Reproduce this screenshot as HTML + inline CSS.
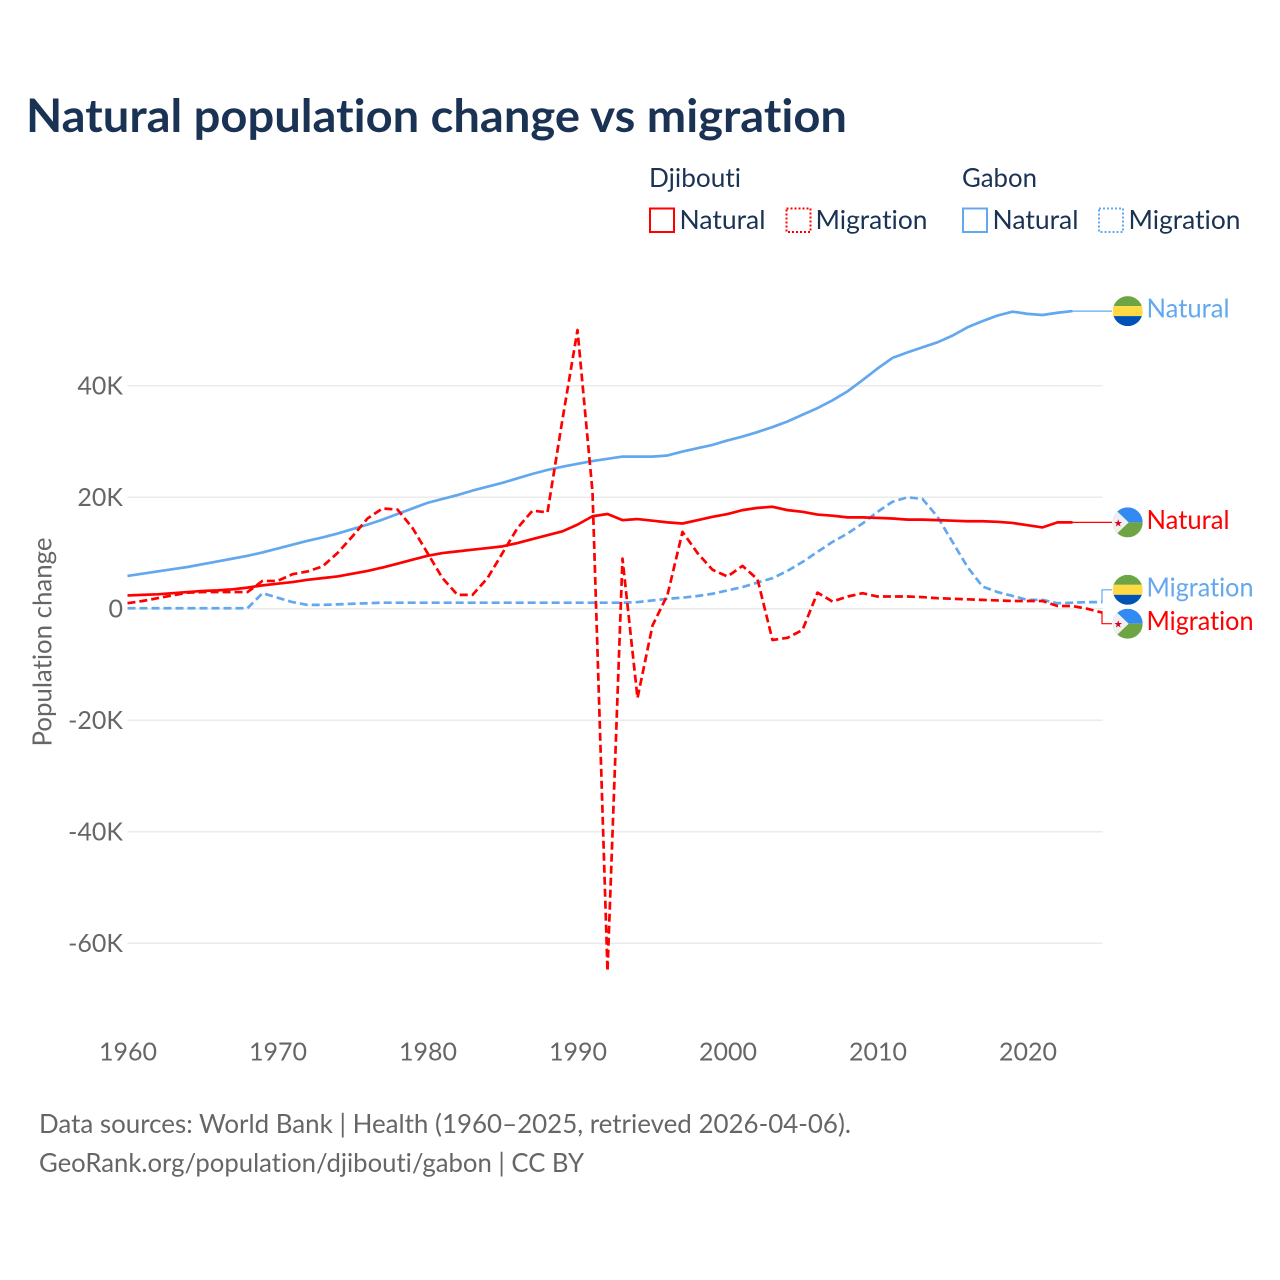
<!DOCTYPE html>
<html lang="en">
<head>
<meta charset="utf-8">
<title>Natural population change vs migration</title>
<style>
html,body{margin:0;padding:0;background:#fff;width:1280px;height:1280px;overflow:hidden}
svg{display:block}
text{font-family:"Lato","Carlito","Liberation Sans",sans-serif;font-variant-ligatures:none;font-feature-settings:"liga" 0,"clig" 0}
.navy{fill:#1a3253}
.gray{fill:#666}
</style>
</head>
<body>
<svg id="chart" xmlns="http://www.w3.org/2000/svg" width="1280" height="1280" viewBox="0 0 1280 1280">
  <rect x="0" y="0" width="1280" height="1280" fill="#fff"/>
  <text class="navy" x="26" y="132" font-size="46" font-weight="700" textLength="821" lengthAdjust="spacingAndGlyphs">Natural population change vs migration</text>

  <g font-size="26">
    <text class="navy" x="649" y="187" textLength="92" lengthAdjust="spacingAndGlyphs">Djibouti</text>
    <text class="navy" x="962" y="187" textLength="75" lengthAdjust="spacingAndGlyphs">Gabon</text>
    <rect x="650" y="208.500" width="24" height="23.500" fill="none" stroke="#ff0000" stroke-width="2"/>
    <text class="navy" x="679.500" y="229" textLength="86" lengthAdjust="spacingAndGlyphs">Natural</text>
    <rect x="786.500" y="208.500" width="24" height="23.500" fill="none" stroke="#ff0000" stroke-width="2" stroke-dasharray="2 2"/>
    <text class="navy" x="815.500" y="229" textLength="112" lengthAdjust="spacingAndGlyphs">Migration</text>
    <rect x="963" y="208.500" width="24" height="23.500" fill="none" stroke="#63a8ef" stroke-width="2"/>
    <text class="navy" x="992.500" y="229" textLength="86" lengthAdjust="spacingAndGlyphs">Natural</text>
    <rect x="1099" y="208.500" width="24" height="23.500" fill="none" stroke="#63a8ef" stroke-width="2" stroke-dasharray="2 2"/>
    <text class="navy" x="1128.500" y="229" textLength="112" lengthAdjust="spacingAndGlyphs">Migration</text>
  </g>

  <g id="grid"></g>
  <g id="yticks"></g>
  <g id="xticks"></g>
  <text class="gray" transform="translate(51.500 642) rotate(-90)" text-anchor="middle" font-size="26" textLength="209" lengthAdjust="spacingAndGlyphs">Population change</text>
  <g id="series"></g>
  <g id="labels"></g>

  <g font-size="26">
    <text class="gray" x="39" y="1133" textLength="812" lengthAdjust="spacingAndGlyphs">Data sources: World Bank | Health (1960–2025, retrieved 2026-04-06).</text>
    <text class="gray" x="39" y="1172" textLength="545" lengthAdjust="spacingAndGlyphs">GeoRank.org/population/djibouti/gabon | CC BY</text>
  </g>
</svg>
<script>
const firstYear = 1960;
const xTickYears = [1960, 1970, 1980, 1990, 2000, 2010, 2020];
const yTickValues = [40, 20, 0, -20, -40, -60];
const yTickLabels = ['40K', '20K', '0', '-20K', '-40K', '-60K'];
const gabonNatural = [5.9,6.3,6.7,7.1,7.5,8.0,8.5,9.0,9.5,10.1,10.8,11.5,12.2,12.8,13.5,14.3,15.1,16.0,17.0,18.0,19.0,19.7,20.4,21.2,21.9,22.6,23.4,24.2,24.9,25.5,26.0,26.5,26.9,27.3,27.3,27.3,27.5,28.2,28.8,29.4,30.2,30.9,31.7,32.6,33.6,34.8,36.0,37.4,39.0,41.0,43.1,45.0,46.0,46.9,47.8,49.0,50.5,51.6,52.6,53.3,52.9,52.7,53.1,53.4];
const djiboutiNatural = [2.4,2.5,2.6,2.8,3.0,3.2,3.3,3.5,3.8,4.2,4.5,4.8,5.2,5.5,5.8,6.3,6.8,7.4,8.1,8.8,9.5,10.0,10.3,10.6,10.9,11.2,11.8,12.5,13.2,13.9,15.1,16.6,17.0,15.9,16.1,15.8,15.5,15.3,15.9,16.5,17.0,17.7,18.1,18.3,17.7,17.4,16.9,16.7,16.4,16.4,16.3,16.2,16.0,16.0,15.9,15.8,15.7,15.7,15.6,15.4,15.0,14.6,15.5,15.5];
const djiboutiMigration = [1.0,1.4,1.9,2.4,2.9,3.0,3.0,3.0,3.0,5.0,5.0,6.2,6.7,7.6,10.0,13.0,16.2,18.0,17.8,14.5,10.0,5.5,2.5,2.5,5.5,10.0,14.5,17.6,17.3,34.0,50.0,21.0,-65.0,9.0,-16.0,-3.0,2.5,13.8,10.0,7.0,5.8,7.7,5.3,-5.6,-5.2,-3.8,2.9,1.3,2.2,2.8,2.2,2.2,2.2,2.1,1.9,1.8,1.7,1.6,1.5,1.4,1.4,1.4,0.5,0.5,0.0,-0.7];
const gabonMigration = [0.1,0.1,0.1,0.1,0.1,0.1,0.1,0.1,0.1,2.8,2.0,1.2,0.7,0.7,0.8,0.9,1.0,1.1,1.1,1.1,1.1,1.1,1.1,1.1,1.1,1.1,1.1,1.1,1.1,1.1,1.1,1.1,1.1,1.1,1.2,1.5,1.8,2.0,2.3,2.7,3.3,3.9,4.7,5.5,6.8,8.4,10.2,12.0,13.5,15.3,17.4,19.2,20.0,19.7,16.5,12.0,7.5,4.0,3.0,2.3,1.6,1.6,1.0,1.1,1.2,1.2];

const NS = 'http://www.w3.org/2000/svg';
const BLUE = '#63a8ef';
const RED = '#ff0000';
const plotLeft = 127.5;
const plotRight = 1102.5;
const xScale = v => 127.5 + (v - 1960) * 15;
const yScale = v => 608.8 - v * 5.575;
const make = (tag, parent, attrs) => {
  const el = document.createElementNS(NS, tag);
  Object.keys(attrs).forEach(k => el.setAttribute(k, attrs[k]));
  parent.appendChild(el);
  return el;
};
const grid = document.getElementById('grid');
const yticks = document.getElementById('yticks');
const xticks = document.getElementById('xticks');
const seriesGroup = document.getElementById('series');
const labels = document.getElementById('labels');

yTickValues.forEach((v, i) => {
  const line = make('line', grid, {x1: plotLeft, x2: plotRight, y1: yScale(v), y2: yScale(v), stroke: '#ebebeb', 'stroke-width': 1.5});
  
  
  const t = make('text', yticks, {x: 123, y: yScale(v) + 8.5, 'text-anchor': 'end', 'font-size': 25, class: 'gray'});
  t.textContent = yTickLabels[i];
  
  
});

xTickYears.forEach(year => {
  const t = make('text', xticks, {x: xScale(year) + 0.5, y: 1060.5, 'text-anchor': 'middle', 'font-size': 25, class: 'gray'});
  t.textContent = String(year);
  
  
});

function drawLine(values, color, dashed, name) {
  const d = values.map((v, i) => (i ? 'L' : 'M') + xScale(firstYear + i).toFixed(2) + ' ' + yScale(v).toFixed(2)).join(' ');
  const attrs = {d: d, fill: 'none', stroke: color, 'stroke-width': 2.7, 'stroke-linejoin': 'round'};
  if (dashed) attrs['stroke-dasharray'] = '8 4';
  const p = make('path', seriesGroup, attrs);
  
  
}
drawLine(gabonMigration, BLUE, true, 'line-gabon-migration');
drawLine(gabonNatural, BLUE, false, 'line-gabon-natural');
drawLine(djiboutiMigration, RED, true, 'line-djibouti-migration');
drawLine(djiboutiNatural, RED, false, 'line-djibouti-natural');

function drawGabonFlag(group, cy, id) {
  const cx = 1127.7, r = 15;
  const clip = make('clipPath', group, {id: id});
  make('circle', clip, {cx: cx, cy: cy, r: r});
  const g = make('g', group, {'clip-path': 'url(#' + id + ')'});
  make('rect', g, {x: cx - r, y: cy - r, width: 2 * r, height: 10, fill: '#6da544'});
  make('rect', g, {x: cx - r, y: cy - 5, width: 2 * r, height: 10, fill: '#ffda44'});
  make('rect', g, {x: cx - r, y: cy + 5, width: 2 * r, height: 10, fill: '#0052b4'});
}
function drawDjiboutiFlag(group, cy, id) {
  const cx = 1127.7, r = 15;
  const clip = make('clipPath', group, {id: id});
  make('circle', clip, {cx: cx, cy: cy, r: r});
  const g = make('g', group, {'clip-path': 'url(#' + id + ')'});
  make('rect', g, {x: cx - r, y: cy - r, width: 2 * r, height: r, fill: '#338af3'});
  make('rect', g, {x: cx - r, y: cy, width: 2 * r, height: r, fill: '#6da544'});
  make('path', g, {d: 'M' + (cx - 10.5) + ' ' + (cy - 11) + ' L' + (cx + 1) + ' ' + cy + ' L' + (cx - 10.5) + ' ' + (cy + 11) + ' L' + (cx - r) + ' ' + (cy + 11) + ' L' + (cx - r) + ' ' + (cy - 11) + ' Z', fill: '#f0f0f0'});
  const s = make('text', g, {x: cx - 9.5, y: cy + 4, 'text-anchor': 'middle', 'font-size': 10, fill: '#d80027'});
  s.textContent = '★';
  s.setAttribute('style', 'font-family:"DejaVu Sans",sans-serif');
}
function drawEndLabel(values, color, text, offset, flag, name) {
  const last = values.length - 1;
  const lx = xScale(firstYear + last), ly = yScale(values[last]), cy = ly + offset;
  const g = make('g', labels, {});
  
  
  const c = make('path', g, {d: 'M' + lx + ' ' + ly + ' H1102 V' + cy + ' H1112', fill: 'none', stroke: color, 'stroke-width': 1.2});
  
  
  flag(g, cy, name + '-clip');
  const t = make('text', g, {x: 1146.5, y: cy + 6.5, 'font-size': 26, fill: color, textLength: text === 'Natural' ? 83 : 107, lengthAdjust: 'spacingAndGlyphs'});
  t.textContent = text;
  
  
}
drawEndLabel(gabonNatural, BLUE, 'Natural', 0, drawGabonFlag, 'end-label-gabon-natural');
drawEndLabel(djiboutiNatural, RED, 'Natural', 0, drawDjiboutiFlag, 'end-label-djibouti-natural');
drawEndLabel(gabonMigration, BLUE, 'Migration', -12.3, drawGabonFlag, 'end-label-gabon-migration');
drawEndLabel(djiboutiMigration, RED, 'Migration', 11, drawDjiboutiFlag, 'end-label-djibouti-migration');
</script>
</body>
</html>
